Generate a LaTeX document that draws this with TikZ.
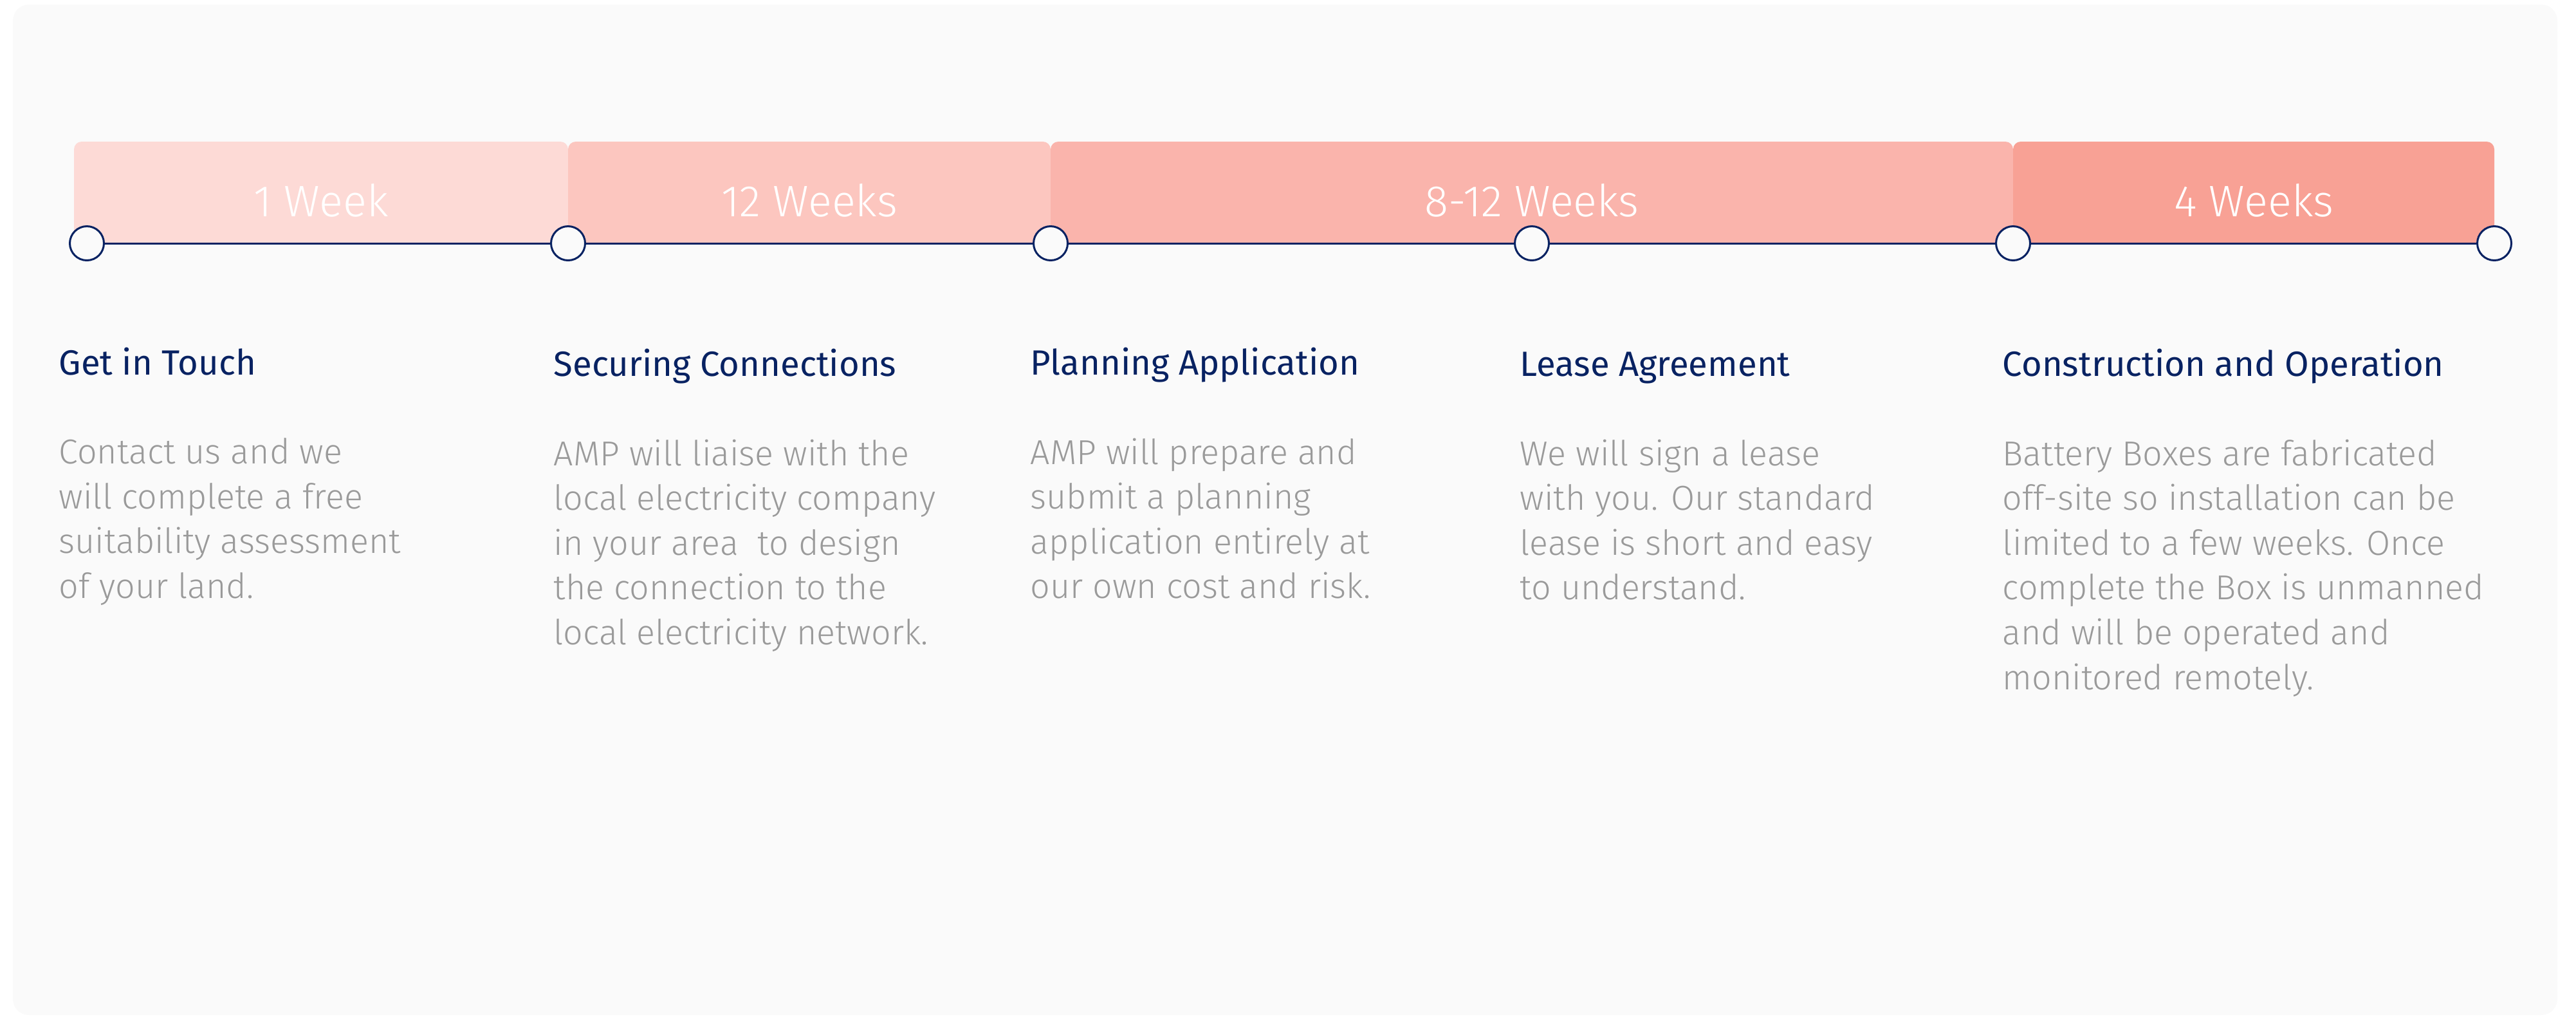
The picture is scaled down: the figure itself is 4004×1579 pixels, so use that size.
\documentclass[tikz,border=0pt]{standalone}
\usepackage{fontspec}
\setmainfont{Fira Sans Light}
\newfontfamily\headfont{Fira Sans}
\definecolor{navy}{RGB}{8,34,98}
\definecolor{panel}{HTML}{FAFAFA}
\definecolor{bodygray}{HTML}{9A9A9A}
\definecolor{stepA}{HTML}{FDDAD6}
\definecolor{stepB}{HTML}{FCC6BF}
\definecolor{stepC}{HTML}{FAB4AC}
\definecolor{stepD}{HTML}{F8A195}
\tikzset{
  milestone/.style={circle,draw=navy,line width=0.3mm,fill=panel,minimum size=5.3mm,inner sep=0pt},
  timeline/.style={navy,line width=0.3mm},
  weeks/.style={text=white,inner sep=0pt,font=\fontsize{19.5}{22}\selectfont},
  heading/.style={anchor=base west,inner sep=0pt,text=navy,font=\headfont\fontsize{15.5}{19}\selectfont},
  body/.style={anchor=north west,inner sep=0pt,align=left,text=bodygray,
    font=\fontsize{15.3}{19.8}\selectfont,execute at begin node=\strut}
}

\begin{document}
\begin{tikzpicture}[x=0.1mm,y=-0.1mm]
    \useasboundingbox (0,0) rectangle (4004,1579);
    \fill[panel,rounded corners=2.5mm] (20,7) rectangle (3975,1577);
    % duration bars
    \foreach \a/\b/\c in {115/883/stepA,883/1633/stepB,1633/3129/stepC,3129/3877/stepD}
      \fill[\c,rounded corners=1.2mm] (\a,378) rectangle (\b,220);
    \node[weeks] (w1) at (499,311) {1 Week};
    \node[weeks] (w2) at (1258,311) {12 Weeks};
    \node[weeks] (w3) at (2381,311) {8-12 Weeks};
    \node[weeks] (w4) at (3503,311) {4 Weeks};
    % milestones
    \foreach \x [count=\i from 0] in {135,883,1633,2381,3129,3877}
      \node[milestone] (m\i) at (\x,378) {};
    \draw[timeline] (m0) -- (m1);
    \draw[timeline] (m1) -- (m2);
    \draw[timeline] (m2) -- (m3);
    \draw[timeline] (m3) -- (m4);
    \draw[timeline] (m4) -- (m5);
    % steps (body tops sit one strut above the first baseline)
    \node[heading] (h1) at (91,582) {Get in Touch};
    \node[heading] (h2) at (860,584) {Securing Connections};
    \node[heading] (h3) at (1601,582) {Planning Application};
    \node[heading] (h4) at (2362,584) {Lease Agreement};
    \node[heading] (h5) at (3112,584) {Construction and Operation};
    \node[body] (b1) at (91,680) {Contact us and we\\will complete a free\\suitability assessment\\of your land.};
    \node[body] (b2) at (860,682) {AMP will liaise with the\\local electricity company\\in your area\ \ to design\\the connection to the\\local electricity network.};
    \node[body] (b3) at (1601,680) {AMP will prepare and\\submit a planning\\application entirely at\\our own cost and risk.};
    \node[body] (b4) at (2362,682) {We will sign a lease\\with you. Our standard\\lease is short and easy\\to understand.};
    \node[body] (b5) at (3112,682) {Battery Boxes are fabricated\\off-site so installation can be\\limited to a few weeks. Once\\complete the Box is unmanned\\and will be operated and\\monitored remotely.};
\end{tikzpicture}
\end{document}
